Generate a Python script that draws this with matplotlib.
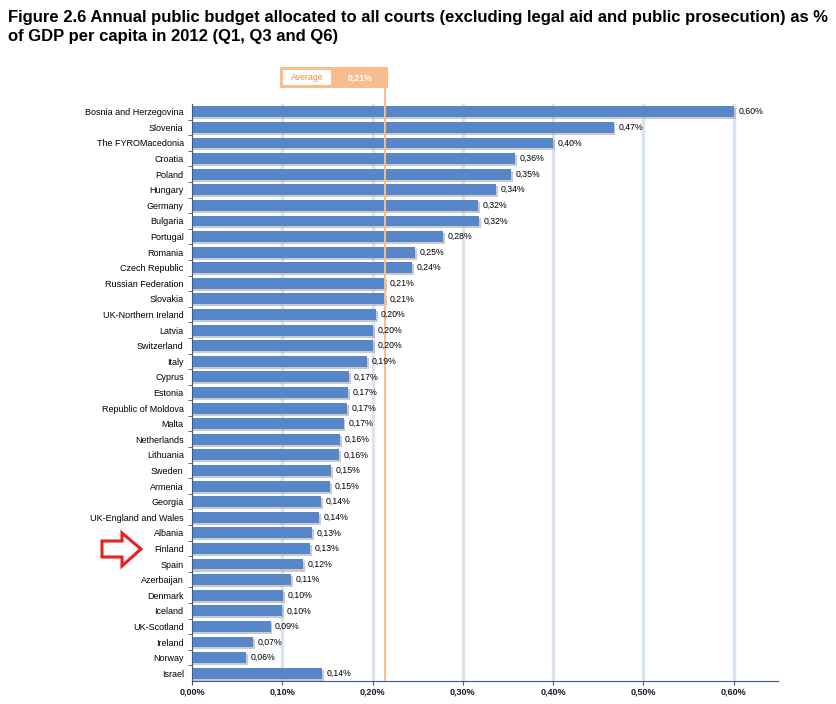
import matplotlib.pyplot as plt
from matplotlib.patches import Polygon, Rectangle

plt.rcParams['font.family'] = ['Liberation Sans', 'DejaVu Sans']

# 数据：国家与占人均GDP的百分比
countries = ['Bosnia and Herzegovina', 'Slovenia', 'The FYROMacedonia', 'Croatia',
             'Poland', 'Hungary', 'Germany', 'Bulgaria', 'Portugal', 'Romania',
             'Czech Republic', 'Russian Federation', 'Slovakia', 'UK-Northern Ireland',
             'Latvia', 'Switzerland', 'Italy', 'Cyprus', 'Estonia', 'Republic of Moldova',
             'Malta', 'Netherlands', 'Lithuania', 'Sweden', 'Armenia', 'Georgia',
             'UK-England and Wales', 'Albania', 'Finland', 'Spain', 'Azerbaijan',
             'Denmark', 'Iceland', 'UK-Scotland', 'Ireland', 'Norway', 'Israel']
values = [0.600, 0.467, 0.400, 0.358, 0.353, 0.337, 0.317, 0.318, 0.278, 0.247,
          0.244, 0.214, 0.214, 0.204, 0.201, 0.201, 0.194, 0.174, 0.173, 0.172,
          0.168, 0.164, 0.163, 0.154, 0.153, 0.143, 0.141, 0.133, 0.131, 0.123,
          0.110, 0.101, 0.100, 0.087, 0.068, 0.060, 0.144]
average = 0.214
xticks = [0.0, 0.1, 0.2, 0.3, 0.4, 0.5, 0.6]

def pct(v):
    return ('%.2f%%' % v).replace('.', ',')

fig = plt.figure(figsize=(8.36, 7.04), dpi=100)
ax = fig.add_axes([192/836, 1-681/704, (778-192)/836, (681-104)/704])

ypos = list(range(len(countries)))

# 网格线
for t in xticks[1:]:
    ax.axvline(t, color='#dae4f1', linewidth=2.4, zorder=0)

# 阴影 + 柱子
ax.barh([y + 0.13 for y in ypos], [v + 0.002 for v in values], height=0.7,
        color='#a8a8a8', alpha=0.6, zorder=1)
ax.barh(ypos, values, height=0.7, color='#5787c8', zorder=2)

for y, v in zip(ypos, values):
    ax.text(v + 0.005, y, pct(v), va='center', ha='left', fontsize=6.3, zorder=4)

# 平均线
ax.axvline(average, color='#f8bd8c', linewidth=1.4, zorder=3)
ax.plot([average, average], [-0.5, -2.75], color='#f8bd8c', linewidth=1.4,
        clip_on=False)

ax.set_xlim(0, 0.649)
ax.set_ylim(len(countries) - 0.5, -0.5)
ax.set_xticks(xticks)
ax.set_xticklabels([pct(t) for t in xticks], fontsize=6.5, fontweight='bold', color='#1a1a2e')
ax.set_yticks(ypos)
ax.set_yticklabels(countries, fontsize=6.5)
ax.set_yticks([y + 0.5 for y in ypos[:-1]], minor=True)
ax.tick_params(axis='y', which='major', length=0, pad=6)
ax.tick_params(axis='y', which='minor', length=3, color='#3a5a85', direction='out')
ax.tick_params(axis='x', length=3, color='#3a5a85', pad=2)
for s in ['top', 'right']:
    ax.spines[s].set_visible(False)
ax.spines['left'].set_color('#3a5a85')
ax.spines['bottom'].set_color('#3a5a85')

# Average 标签框
fig.patches.append(Rectangle((280/836, 1-88/704), 108/836, 21/704,
                             transform=fig.transFigure, facecolor='#f8bd8c', edgecolor='none'))
fig.patches.append(Rectangle((283/836, 1-85/704), 48/836, 15/704,
                             transform=fig.transFigure, facecolor='white', edgecolor='none'))
fig.text(307/836, 1-78/704, 'Average', ha='center', va='center', fontsize=6.3, color='#f08a40')
fig.text(360/836, 1-78/704, pct(average), ha='center', va='center', fontsize=6.3,
         color='white', fontweight='bold')

# 红色箭头
arrow_px = [(102, 541), (122, 541), (122, 533), (141, 549), (122, 566), (122, 557), (102, 557)]
fig.patches.append(Polygon([(x/836, 1-y/704) for x, y in arrow_px], closed=True,
                           transform=fig.transFigure, fill=False, edgecolor='#e8201f', linewidth=2.2))

fig.text(8/836, 1-10/704, 'Figure 2.6 Annual public budget allocated to all courts (excluding legal aid and public prosecution) as %\nof GDP per capita in 2012 (Q1, Q3 and Q6)',
         ha='left', va='top', fontsize=11.95, fontweight='bold', linespacing=1.3)

fig.savefig('out.png', dpi=100)
